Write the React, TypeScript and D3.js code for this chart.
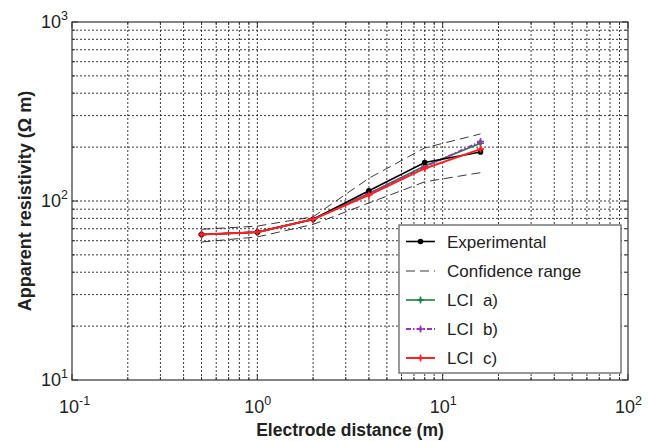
import React from 'react';
import * as d3 from 'd3';

// electrode distances (m)
const distances = [0.5, 1, 2, 4, 8, 16];
const experimental = [65, 67, 79, 114, 164, 188];
const confUpper = [69.5, 72.4, 81.6, 134, 198, 237];
const confLower = [59, 63, 74, 97.5, 128, 144];
const lciA = [65, 67, 79, 110, 157, 210];
const lciB = [65, 67, 79, 110, 155, 215];
const lciC = [65, 67, 79, 108, 152, 195];

const xDecades = [0.1, 1, 10, 100];
const yDecades = [10, 100, 1000];
const xExp = ['-1', '0', '1', '2'];
const yExp = ['1', '2', '3'];

const legendLabels = ['Experimental', 'Confidence range', 'LCI\u00a0\u00a0a)', 'LCI\u00a0\u00a0b)', 'LCI\u00a0\u00a0c)'];

const W = 649;
const H = 441;
const margin = { left: 72, right: 21, top: 22, bottom: 61 };
const font = 'Arial, "Liberation Sans", sans-serif';

const minorValues = (decades: number[]) => {
  const out: number[] = [];
  for (let i = 0; i < decades.length - 1; i++) {
    for (let k = 2; k <= 9; k++) out.push(decades[i] * k);
  }
  return out;
};

const App: React.FC = () => {
  const x = d3.scaleLog().domain([0.1, 100]).range([margin.left, W - margin.right]);
  const y = d3.scaleLog().domain([10, 1000]).range([H - margin.bottom, margin.top]);
  const [x0, x1] = x.range();
  const [y0, y1] = y.range();

  const line = (vals: number[]) =>
    d3.line<number>()
      .x((_, i) => x(distances[i]))
      .y((v) => y(v))(vals) as string;

  const plus = (cx: number, cy: number, s = 3.5) =>
    `M${cx - s},${cy}H${cx + s}M${cx},${cy - s}V${cy + s}`;

  const xGrid = [...xDecades.slice(1, -1), ...minorValues(xDecades)];
  const yGrid = [...yDecades.slice(1, -1), ...minorValues(yDecades)];

  const series = [
    { vals: lciA, color: '#1b7f45', width: 1.6, dash: undefined as string | undefined },
    { vals: lciB, color: '#9933bb', width: 1.8, dash: '5,2,1.5,2' },
    { vals: experimental, color: '#000', width: 1.6, dash: undefined },
    { vals: lciC, color: '#ff2222', width: 2, dash: undefined },
  ];

  const lx = 399, ly = 225, lw = 222, lh = 148;
  const rowY = [241.5, 271, 300, 329, 358];

  return (
    <svg width={W} height={H} style={{ position: 'absolute', left: 0, top: 0, background: '#fff' }}>
      {/* grid */}
      <g stroke="#222" strokeWidth={0.9} strokeDasharray="2,2">
        {xGrid.map((v, i) => (
          <line key={'gx' + i} x1={x(v)} x2={x(v)} y1={y1} y2={y0} />
        ))}
        {yGrid.map((v, i) => (
          <line key={'gy' + i} x1={x0} x2={x1} y1={y(v)} y2={y(v)} />
        ))}
      </g>
      {/* ticks */}
      <g stroke="#333" strokeWidth={1}>
        {xDecades.map((v, i) => (
          <g key={'tx' + i}>
            <line x1={x(v)} x2={x(v)} y1={y0} y2={y0 - 6} />
            <line x1={x(v)} x2={x(v)} y1={y1} y2={y1 + 6} />
          </g>
        ))}
        {minorValues(xDecades).map((v, i) => (
          <g key={'mx' + i}>
            <line x1={x(v)} x2={x(v)} y1={y0} y2={y0 - 3} />
            <line x1={x(v)} x2={x(v)} y1={y1} y2={y1 + 3} />
          </g>
        ))}
        {yDecades.map((v, i) => (
          <g key={'ty' + i}>
            <line x1={x0} x2={x0 + 6} y1={y(v)} y2={y(v)} />
            <line x1={x1} x2={x1 - 6} y1={y(v)} y2={y(v)} />
          </g>
        ))}
        {minorValues(yDecades).map((v, i) => (
          <g key={'my' + i}>
            <line x1={x0} x2={x0 + 3} y1={y(v)} y2={y(v)} />
            <line x1={x1} x2={x1 - 3} y1={y(v)} y2={y(v)} />
          </g>
        ))}
      </g>

      {/* confidence range */}
      <g fill="none" stroke="#222" strokeWidth={0.9} strokeDasharray="9,5">
        <path d={line(confUpper)} />
        <path d={line(confLower)} />
      </g>

      {/* series */}
      {series.map((s, si) => (
        <g key={'s' + si}>
          <path d={line(s.vals)} fill="none" stroke={s.color} strokeWidth={s.width} strokeDasharray={s.dash} />
          {s.vals.map((v, i) =>
            s.color === '#000' ? (
              <circle key={i} cx={x(distances[i])} cy={y(v)} r={2.8} fill="#000" />
            ) : (
              <g key={i}>
                <path d={plus(x(distances[i]), y(v))} stroke={s.color} strokeWidth={1.6} />
                <circle cx={x(distances[i])} cy={y(v)} r={1.8} fill={s.color} />
              </g>
            )
          )}
        </g>
      ))}

      {/* axes box */}
      <rect x={x0} y={y1} width={x1 - x0} height={y0 - y1} fill="none" stroke="#333" strokeWidth={1.2} />

      {/* tick labels */}
      <g fontFamily={font} fill="#222">
        {xDecades.map((v, i) => (
          <text key={'lx' + i} x={x(v) - 13} y={y0 + 33} fontSize={18}>
            10<tspan dy={-8} fontSize={12.5}>{xExp[i]}</tspan>
          </text>
        ))}
        {yDecades.map((v, i) => (
          <text key={'ly' + i} x={x0 - 31} y={y(v) + 6} fontSize={18}>
            10<tspan dy={-8} fontSize={12.5}>{yExp[i]}</tspan>
          </text>
        ))}
      </g>

      {/* axis titles */}
      <text x={(x0 + x1) / 2} y={436} textAnchor="middle" fontFamily={font} fontWeight="bold" fontSize={17.5} fill="#222">
        Electrode distance (m)
      </text>
      <text
        transform={`translate(31,${(y0 + y1) / 2}) rotate(-90)`}
        textAnchor="middle"
        fontFamily={font}
        fontWeight="bold"
        fontSize={18}
        fill="#222"
      >
        Apparent resistivity (Ω m)
      </text>

      {/* legend */}
      <rect x={lx} y={ly} width={lw} height={lh} fill="#fff" stroke="#555" strokeWidth={1.2} />
      {legendLabels.map((label, i) => {
        const yy = rowY[i];
        const sx0 = 406, sx1 = 435, mx = (sx0 + sx1) / 2;
        let sample: React.ReactNode = null;
        if (i === 0) {
          sample = (
            <g>
              <line x1={sx0} x2={sx1} y1={yy} y2={yy} stroke="#000" strokeWidth={1.6} />
              <circle cx={mx} cy={yy} r={2.8} fill="#000" />
            </g>
          );
        } else if (i === 1) {
          sample = <line x1={sx0} x2={sx1} y1={yy} y2={yy} stroke="#222" strokeWidth={0.9} strokeDasharray="9,5" />;
        } else {
          const s = [series[0], series[1], series[3]][i - 2];
          sample = (
            <g>
              <line x1={sx0} x2={sx1} y1={yy} y2={yy} stroke={s.color} strokeWidth={s.width} strokeDasharray={s.dash} />
              <path d={plus(mx, yy)} stroke={s.color} strokeWidth={1.6} />
              <circle cx={mx} cy={yy} r={1.8} fill={s.color} />
            </g>
          );
        }
        return (
          <g key={'lg' + i}>
            {sample}
            <text x={447} y={yy + 6} fontFamily={font} fontSize={17} fill="#222">
              {label}
            </text>
          </g>
        );
      })}
    </svg>
  );
};

export default App;
